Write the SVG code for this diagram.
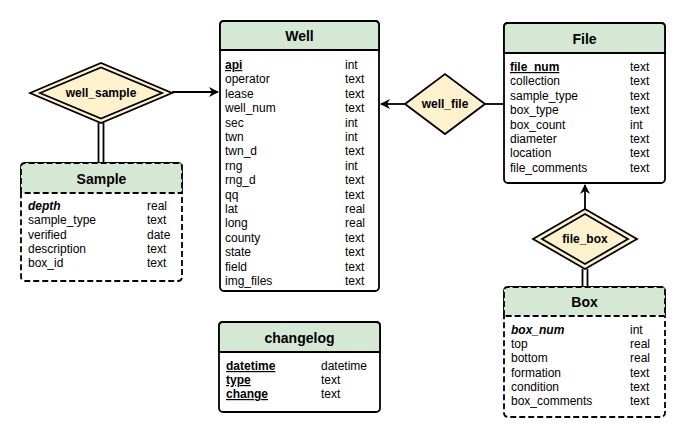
<svg xmlns="http://www.w3.org/2000/svg" width="686" height="437" viewBox="0 0 686 437">
<style>
text{font-family:"Liberation Sans",Arial,sans-serif;fill:#000}
.row{font-size:12px}
.title{font-size:14px;font-weight:bold;text-anchor:middle}
.dlabel{font-size:12px;font-weight:bold;text-anchor:middle}
.key{text-decoration:underline;font-weight:bold}
.pk{font-weight:bold;font-style:italic}
.hdr{fill:#d5e8d4;stroke:#000;stroke-width:1.8}
.body{fill:#fff;stroke:#000;stroke-width:1.8}
.dash{stroke-dasharray:6 3}
.dia{fill:#fff2cc;stroke:#000;stroke-width:1.8}
.conn{fill:none;stroke:#000;stroke-width:1.8}
</style>
<defs>
<marker id="arr" viewBox="0 0 10 10" refX="9" refY="5" markerWidth="11" markerHeight="10" markerUnits="userSpaceOnUse" orient="auto">
<path d="M0,0 L10,5 L0,10 L3,5 Z" fill="#000"/>
</marker>
</defs>
<rect width="686" height="437" fill="#fff"/>

<g id="connectors">
<path class="conn" d="M172,92 L218,92" marker-end="url(#arr)"/>
<path class="conn" d="M405,104 L381,104" marker-end="url(#arr)"/>
<path class="conn" d="M485,104 L504,104"/>
<path class="conn" d="M585,209 L585,185" marker-end="url(#arr)"/>
<path class="conn" d="M98.5,123 L98.5,163 M103.5,123 L103.5,163"/>
<path class="conn" d="M582.5,269 L582.5,287 M587.5,269 L587.5,287"/>
</g>

<g id="well">
<rect class="body" x="220" y="21" width="159" height="270" rx="4"/>
<path class="hdr" d="M220,50 L220,25 Q220,21 224,21 L375,21 Q379,21 379,25 L379,50 Z"/>
<text class="title" x="299.5" y="40.5">Well</text>
<g class="row">
<text x="225" y="69" class="key">api</text><text x="345" y="69">int</text>
<text x="225" y="83.4">operator</text><text x="345" y="83.4">text</text>
<text x="225" y="97.8">lease</text><text x="345" y="97.8">text</text>
<text x="225" y="112.2">well_num</text><text x="345" y="112.2">text</text>
<text x="225" y="126.6">sec</text><text x="345" y="126.6">int</text>
<text x="225" y="141">twn</text><text x="345" y="141">int</text>
<text x="225" y="155.4">twn_d</text><text x="345" y="155.4">text</text>
<text x="225" y="169.8">rng</text><text x="345" y="169.8">int</text>
<text x="225" y="184.2">rng_d</text><text x="345" y="184.2">text</text>
<text x="225" y="198.6">qq</text><text x="345" y="198.6">text</text>
<text x="225" y="213">lat</text><text x="345" y="213">real</text>
<text x="225" y="227.4">long</text><text x="345" y="227.4">real</text>
<text x="225" y="241.8">county</text><text x="345" y="241.8">text</text>
<text x="225" y="256.2">state</text><text x="345" y="256.2">text</text>
<text x="225" y="270.6">field</text><text x="345" y="270.6">text</text>
<text x="225" y="285">img_files</text><text x="345" y="285">text</text>
</g>
</g>

<g id="file">
<rect class="body" x="504" y="23" width="161" height="160" rx="4"/>
<path class="hdr" d="M504,53 L504,27 Q504,23 508,23 L661,23 Q665,23 665,27 L665,53 Z"/>
<text class="title" x="584.5" y="43.5">File</text>
<g class="row">
<text x="510" y="71" class="key">file_num</text><text x="630" y="71">text</text>
<text x="510" y="85.4">collection</text><text x="630" y="85.4">text</text>
<text x="510" y="99.8">sample_type</text><text x="630" y="99.8">text</text>
<text x="510" y="114.2">box_type</text><text x="630" y="114.2">text</text>
<text x="510" y="128.6">box_count</text><text x="630" y="128.6">int</text>
<text x="510" y="143">diameter</text><text x="630" y="143">text</text>
<text x="510" y="157.4">location</text><text x="630" y="157.4">text</text>
<text x="510" y="171.8">file_comments</text><text x="630" y="171.8">text</text>
</g>
</g>

<g id="sample">
<rect class="body dash" x="21" y="163" width="161" height="118" rx="4"/>
<path class="hdr dash" d="M21,193 L21,167 Q21,163 25,163 L178,163 Q182,163 182,167 L182,193 Z"/>
<text class="title" x="101.5" y="183.5">Sample</text>
<g class="row">
<text x="28" y="210" class="pk">depth</text><text x="147" y="210">real</text>
<text x="28" y="224.3">sample_type</text><text x="147" y="224.3">text</text>
<text x="28" y="238.6">verified</text><text x="147" y="238.6">date</text>
<text x="28" y="252.9">description</text><text x="147" y="252.9">text</text>
<text x="28" y="267.2">box_id</text><text x="147" y="267.2">text</text>
</g>
</g>

<g id="box">
<rect class="body dash" x="504" y="287" width="161" height="130" rx="4"/>
<path class="hdr dash" d="M504,316 L504,291 Q504,287 508,287 L661,287 Q665,287 665,291 L665,316 Z"/>
<text class="title" x="584.5" y="306.5">Box</text>
<g class="row">
<text x="511" y="334" class="pk">box_num</text><text x="630" y="334">int</text>
<text x="511" y="348.2">top</text><text x="630" y="348.2">real</text>
<text x="511" y="362.4">bottom</text><text x="630" y="362.4">real</text>
<text x="511" y="376.6">formation</text><text x="630" y="376.6">text</text>
<text x="511" y="390.8">condition</text><text x="630" y="390.8">text</text>
<text x="511" y="405">box_comments</text><text x="630" y="405">text</text>
</g>
</g>

<g id="changelog">
<rect class="body" x="219" y="322" width="161" height="90" rx="4"/>
<path class="hdr" d="M219,352 L219,326 Q219,322 223,322 L376,322 Q380,322 380,326 L380,352 Z"/>
<text class="title" x="299.5" y="342.5">changelog</text>
<g class="row">
<text x="226" y="370" class="key">datetime</text><text x="321" y="370">datetime</text>
<text x="226" y="384" class="key">type</text><text x="321" y="384">text</text>
<text x="226" y="398" class="key">change</text><text x="321" y="398">text</text>
</g>
</g>

<g id="well_sample">
<polygon class="dia" points="30,93 101,63 172,93 101,123"/>
<polygon class="dia" points="40,93 101,67.5 162,93 101,118.5"/>
<text class="dlabel" x="101" y="97">well_sample</text>
</g>

<g id="well_file">
<polygon class="dia" points="405,104 445,74 485,104 445,134"/>
<text class="dlabel" x="445" y="108">well_file</text>
</g>

<g id="file_box">
<polygon class="dia" points="533,239 585,209 637,239 585,269"/>
<polygon class="dia" points="542,239 585,214 628,239 585,264"/>
<text class="dlabel" x="585" y="243">file_box</text>
</g>
</svg>
